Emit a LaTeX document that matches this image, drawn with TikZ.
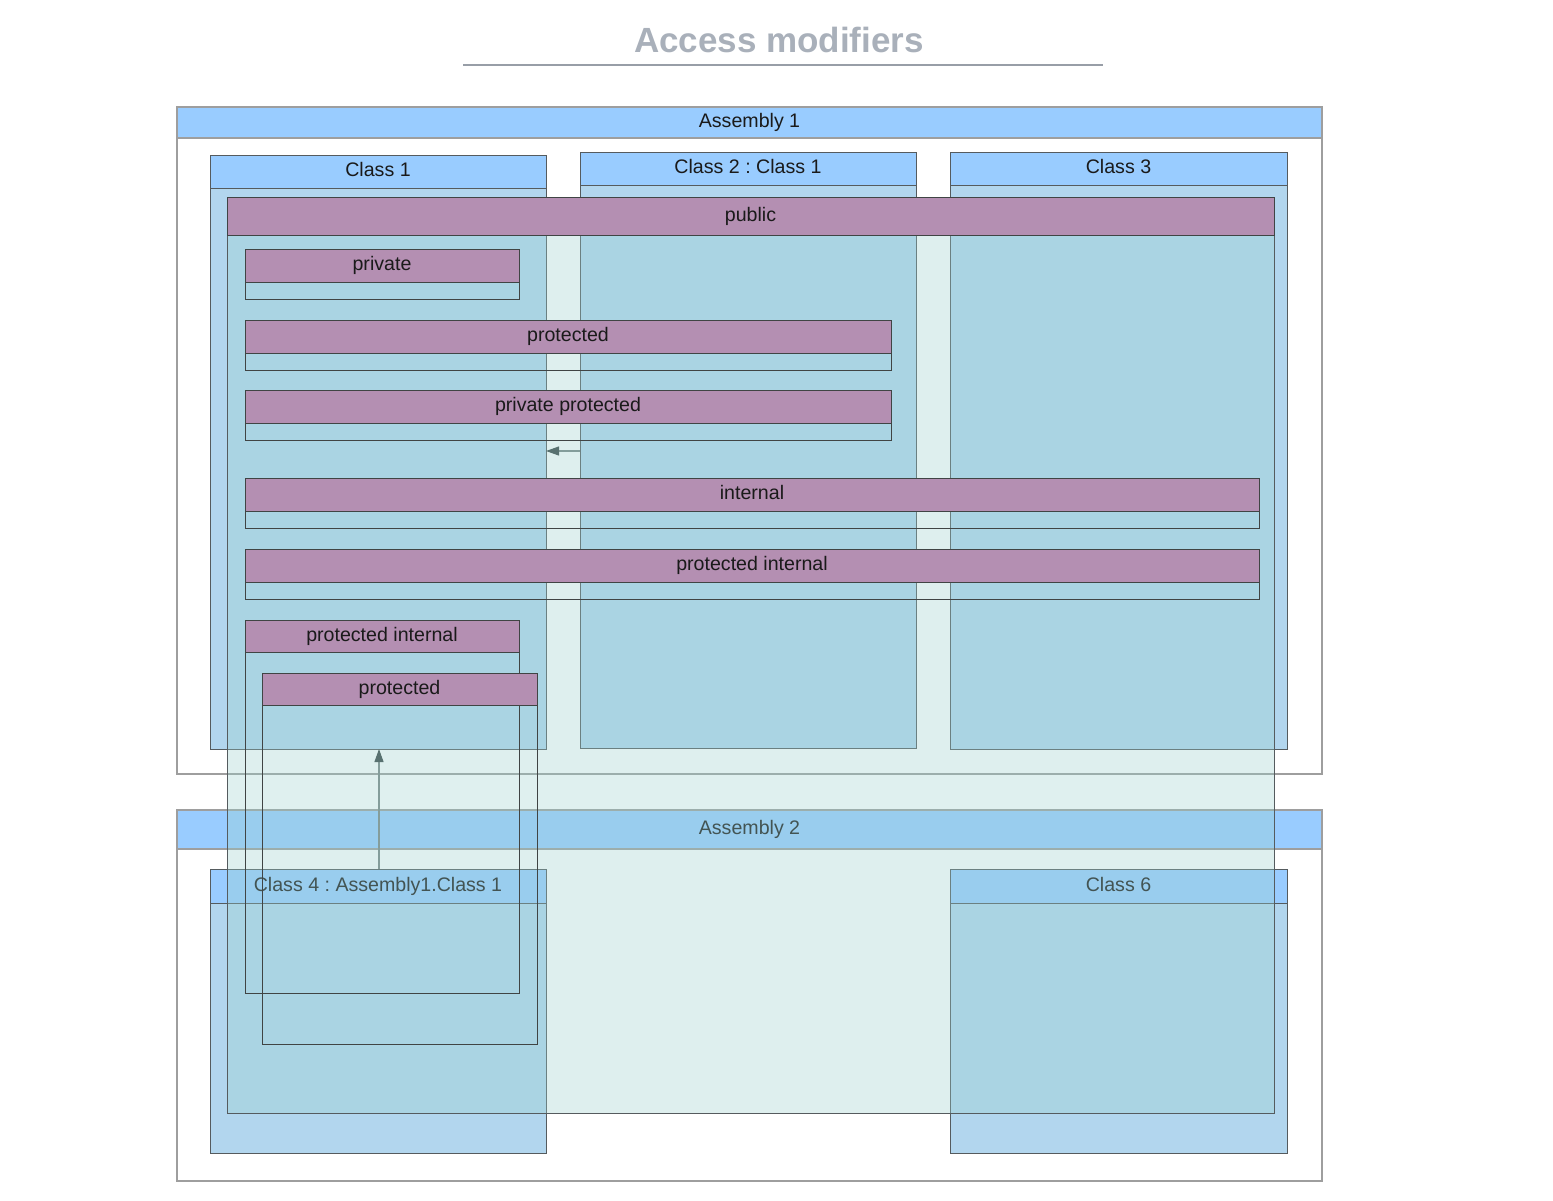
\documentclass[tikz,border=0pt]{standalone}
\usepackage{fontspec}
\setmainfont{Liberation Sans}
\usetikzlibrary{arrows.meta}
\definecolor{hblue}{HTML}{99CCFF}
\definecolor{cbodyc}{HTML}{B2D6EE}
\definecolor{purp}{HTML}{B48FB2}
\definecolor{tintc}{HTML}{9AD0CC}
\definecolor{asmline}{HTML}{9E9E9E}
\definecolor{clsline}{HTML}{555B5E}
\definecolor{inline}{HTML}{404444}
\definecolor{txtc}{HTML}{1A1A1A}
\definecolor{titlec}{HTML}{A9B0BA}
\definecolor{arrline}{HTML}{7A8585}
\definecolor{arrhead}{HTML}{3A4545}
\frenchspacing
\begin{document}
\begin{tikzpicture}[x=1pt,y=-1pt,
  every node/.style={inner sep=0pt, outer sep=0pt, anchor=north west, rectangle},
  lbl/.style={font=\fontsize{19.6}{22}\selectfont, text=txtc, text height=14pt, text depth=4pt},
  asmbody/.style={fill=white, draw=asmline, line width=1.3pt},
  asmhdr/.style={fill=hblue, draw=asmline, line width=1.3pt, lbl},
  clsbody/.style={fill=cbodyc, draw=clsline, line width=1pt},
  clshdr/.style={fill=hblue, draw=clsline, line width=1pt, lbl},
  pubbody/.style={fill=tintc, fill opacity=0.32, draw=clsline, draw opacity=1, line width=1pt},
  modbody/.style={draw=inline, line width=1pt},
  modhdr/.style={fill=purp, draw=inline, line width=1pt, lbl},
  arr/.style={draw=arrline, line width=1.1pt, -{Triangle[length=13pt,width=9pt,fill=arrhead,color=arrhead]}}
]
\useasboundingbox (0,0) rectangle (1553,1200);

% title
\node[anchor=base, font=\fontsize{35}{40}\selectfont\bfseries, text=titlec] (title) at (779,52) {Access modifiers};
\coordinate (tl) at (463,65);
\coordinate (tr) at (1103,65);
\draw[draw=titlec!90!black, line width=2pt] (tl) -- (tr);

% Assembly 1
\node[asmbody, minimum width=1145pt, minimum height=667pt] (a1) at (177,107) {};
\node[asmhdr, minimum width=1145pt, minimum height=31pt] (a1h) at (177,107) {Assembly 1};
% Assembly 2
\node[asmbody, minimum width=1145pt, minimum height=371pt] (a2) at (177,810) {};
\node[asmhdr, minimum width=1145pt, minimum height=39pt] (a2h) at (177,810) {Assembly 2};

% Classes
\node[clsbody, minimum width=336pt, minimum height=594pt] (c1) at (210,155) {};
\node[clshdr, minimum width=336pt, minimum height=33pt] (c1h) at (210,155) {Class 1};
\node[clsbody, minimum width=336pt, minimum height=596pt] (c2) at (580,152) {};
\node[clshdr, minimum width=336pt, minimum height=33pt] (c2h) at (580,152) {Class 2 : Class 1};
\node[clsbody, minimum width=337pt, minimum height=597pt] (c3) at (950,152) {};
\node[clshdr, minimum width=337pt, minimum height=33pt] (c3h) at (950,152) {Class 3};
\node[clsbody, minimum width=336pt, minimum height=284pt] (c4) at (210,869) {};
\node[clshdr, minimum width=336pt, minimum height=34pt] (c4h) at (210,869) {Class 4 : Assembly1.Class 1};
\node[clsbody, minimum width=337pt, minimum height=284pt] (c6) at (950,869) {};
\node[clshdr, minimum width=337pt, minimum height=34pt] (c6h) at (950,869) {Class 6};

% arrows
\draw[arr] (c2.west |- 0,451) -- (c1.east |- 0,451);
\draw[arr] (c4.north -| 379,0) -- (c1.south -| 379,0);

% public
\node[pubbody, minimum width=1047pt, minimum height=916pt] (pub) at (227,197) {};
\node[modhdr, minimum width=1047pt, minimum height=38pt] (pubh) at (227,197) {public};

% private
\node[modbody, minimum width=274pt, minimum height=50pt] (priv) at (245,249) {};
\node[modhdr, minimum width=274pt, minimum height=33pt] (privh) at (245,249) {private};
% protected
\node[modbody, minimum width=646pt, minimum height=50pt] (prot) at (245,320) {};
\node[modhdr, minimum width=646pt, minimum height=33pt] (proth) at (245,320) {protected};
% private protected
\node[modbody, minimum width=646pt, minimum height=50pt] (pp) at (245,390) {};
\node[modhdr, minimum width=646pt, minimum height=33pt] (pph) at (245,390) {private protected};
% internal
\node[modbody, minimum width=1014pt, minimum height=50pt] (int) at (245,478) {};
\node[modhdr, minimum width=1014pt, minimum height=33pt] (inth) at (245,478) {internal};
% protected internal
\node[modbody, minimum width=1014pt, minimum height=50pt] (pi) at (245,549) {};
\node[modhdr, minimum width=1014pt, minimum height=33pt] (pih) at (245,549) {protected internal};
% protected internal (derived)
\node[modbody, minimum width=274pt, minimum height=373pt] (pi2) at (245,620) {};
\node[modhdr, minimum width=274pt, minimum height=32pt] (pi2h) at (245,620) {protected internal};
% protected (derived)
\node[modbody, minimum width=275pt, minimum height=371pt] (prot2) at (262,673) {};
\node[modhdr, minimum width=275pt, minimum height=32pt] (prot2h) at (262,673) {protected};
\end{tikzpicture}
\end{document}
